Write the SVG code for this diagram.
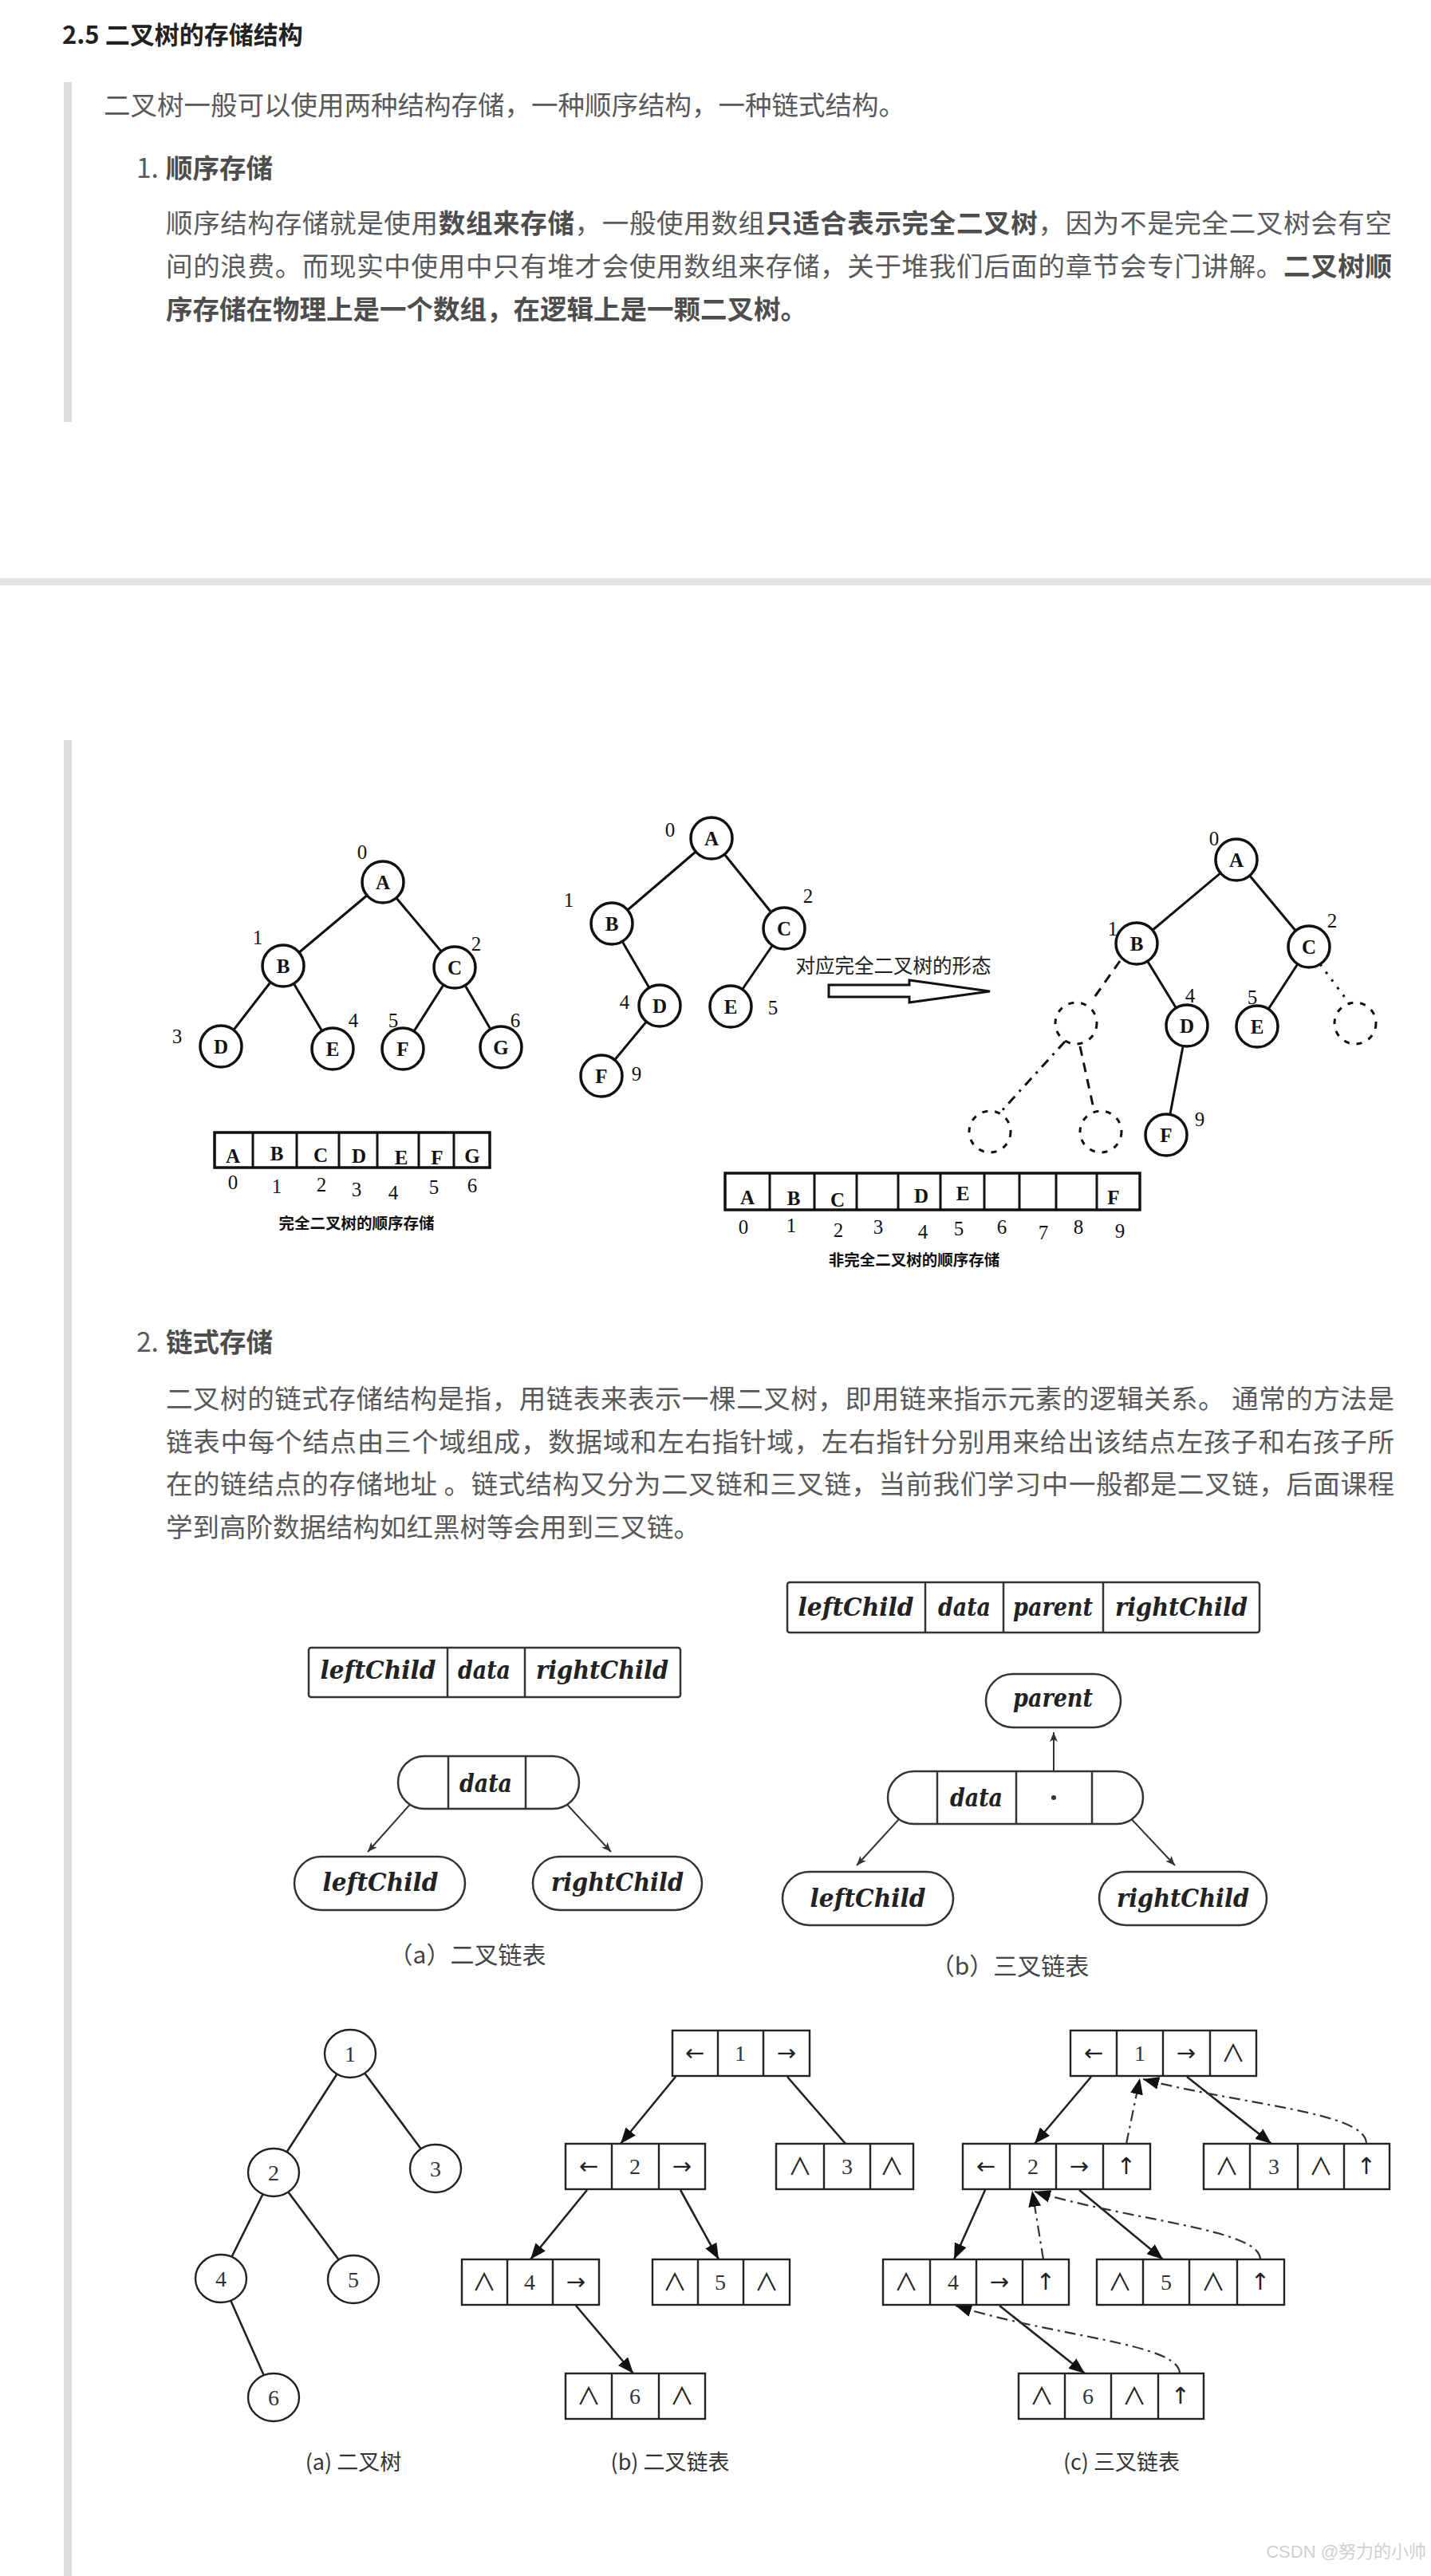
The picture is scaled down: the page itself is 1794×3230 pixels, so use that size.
<svg xmlns="http://www.w3.org/2000/svg" width="1794" height="3230" viewBox="0 0 1794 3230">
<defs>
<style>
.cjk{font-family:"Noto Sans CJK SC","Liberation Sans",sans-serif}
.h{font-size:31px;font-weight:bold;fill:#222}
.body{font-size:33.5px;fill:#595959}
.b{font-weight:bold;fill:#4d4d4d}
.edge{stroke:#111;stroke-width:3;fill:none}
.nd{fill:#fff;stroke:#111;stroke-width:3.5}
.dnd{fill:none;stroke:#111;stroke-width:3;stroke-dasharray:7 9}
.lt{font-family:"Liberation Serif",serif;font-weight:bold;font-size:25px;text-anchor:middle;fill:#111}
.idx{font-family:"Liberation Serif",serif;font-size:25px;text-anchor:middle;fill:#111}
.cap1{font-family:"Noto Sans CJK SC",sans-serif;font-weight:bold;font-size:19.5px;text-anchor:middle;fill:#111}
.cell{fill:#fff;stroke:#111;stroke-width:3.5}
.div{stroke:#111;stroke-width:3}
.dash{fill:none;stroke:#111;stroke-width:3;stroke-dasharray:12 9}
.dashdot{fill:none;stroke:#111;stroke-width:3;stroke-dasharray:12 8 3 8}
.dot{fill:none;stroke:#111;stroke-width:3;stroke-dasharray:3 9}
.it{font-family:"DejaVu Serif",serif;font-style:italic;font-weight:bold;font-size:31px;text-anchor:middle;fill:#222}
.pill{fill:#fff;stroke:#333;stroke-width:2.5}
.ln2{stroke:#333;stroke-width:2.5;fill:none}
.ptr2{stroke:#333;stroke-width:2;fill:none}
.cap2{font-family:"Noto Sans CJK SC",sans-serif;font-size:30px;text-anchor:middle;fill:#444}
.box{fill:#fff;stroke:#222;stroke-width:2.4}
.bdiv{stroke:#222;stroke-width:2.4}
.sym{font-family:"DejaVu Sans",sans-serif;font-size:29px;text-anchor:middle;fill:#222}
.nl{font-family:"Noto Sans CJK SC","DejaVu Sans",sans-serif;font-size:30px;text-anchor:middle;fill:#222}
.num{font-family:"Liberation Serif",serif;font-size:28px;text-anchor:middle;fill:#333}
.ptr3{stroke:#222;stroke-width:2.6;fill:none}
.par3{stroke:#333;stroke-width:2.2;fill:none;stroke-dasharray:14 6 3 6}
.cap3{font-family:"Noto Sans CJK SC","Liberation Serif",sans-serif;font-size:27px;text-anchor:middle;fill:#333}
.wm{font-family:"Liberation Sans","Noto Sans CJK SC",sans-serif;font-size:22px;fill:#d0d0d0;text-anchor:end}
</style>
<marker id="ah2" viewBox="0 0 12 10" refX="12" refY="5" markerWidth="12" markerHeight="10" orient="auto" markerUnits="userSpaceOnUse"><path d="M0,0 L12,5 L0,10 L3,5 Z" fill="#333"/></marker>
<marker id="ah3" viewBox="0 0 20 16" refX="20" refY="8" markerWidth="20" markerHeight="16" orient="auto" markerUnits="userSpaceOnUse"><path d="M0,0 L20,8 L0,16 Z" fill="#111"/></marker>
</defs>
<rect width="1794" height="3230" fill="#fff"/>

<g id="page-text">
<text class="cjk h" x="78" y="54.5">2.5 二叉树的存储结构</text>
<rect x="80" y="103" width="10" height="426" fill="#ddd"/>
<text class="cjk body" x="130" y="143.5">二叉树一般可以使用两种结构存储，一种顺序结构，一种链式结构。</text>
<text class="cjk body" x="171" y="222.5">1. <tspan class="b" x="208">顺序存储</tspan></text>
<text class="cjk body" x="208" y="291.5" textLength="1537">顺序结构存储就是使用<tspan class="b">数组来存储</tspan>，一般使用数组<tspan class="b">只适合表示完全二叉树</tspan>，因为不是完全二叉树会有空</text>
<text class="cjk body" x="208" y="345.5" textLength="1537">间的浪费。而现实中使用中只有堆才会使用数组来存储，关于堆我们后面的章节会专门讲解。<tspan class="b">二叉树顺</tspan></text>
<text class="cjk body b" x="208" y="399.5">序存储在物理上是一个数组，在逻辑上是一颗二叉树。</text>
<rect x="0" y="725" width="1794" height="9" fill="#e4e4e4"/>
<rect x="80" y="928" width="10" height="2302" fill="#ddd"/>
<text class="cjk body" x="171" y="1694.5">2. <tspan class="b" x="208">链式存储</tspan></text>
<text class="cjk body" x="208" y="1766" textLength="1540">二叉树的链式存储结构是指，用链表来表示一棵二叉树，即用链来指示元素的逻辑关系。 通常的方法是</text>
<text class="cjk body" x="208" y="1819.5" textLength="1540">链表中每个结点由三个域组成，数据域和左右指针域，左右指针分别用来给出该结点左孩子和右孩子所</text>
<text class="cjk body" x="208" y="1873" textLength="1540">在的链结点的存储地址 。链式结构又分为二叉链和三叉链，当前我们学习中一般都是二叉链，后面课程</text>
<text class="cjk body" x="208" y="1926.5">学到高阶数据结构如红黑树等会用到三叉链。</text>
<text class="wm" x="1788" y="3207">CSDN @努力的小帅</text>
</g>

<g id="connectors">
<line class="edge" x1="480" y1="1106" x2="355" y2="1211"/>
<line class="edge" x1="480" y1="1106" x2="570" y2="1213"/>
<line class="edge" x1="355" y1="1211" x2="277" y2="1312"/>
<line class="edge" x1="355" y1="1211" x2="417" y2="1315"/>
<line class="edge" x1="570" y1="1213" x2="505" y2="1315"/>
<line class="edge" x1="570" y1="1213" x2="628" y2="1313"/>
<line class="edge" x1="892" y1="1051" x2="767" y2="1158"/>
<line class="edge" x1="892" y1="1051" x2="983" y2="1164"/>
<line class="edge" x1="767" y1="1158" x2="827" y2="1261"/>
<line class="edge" x1="983" y1="1164" x2="916" y2="1262"/>
<line class="edge" x1="827" y1="1261" x2="754" y2="1349"/>
<line class="edge" x1="1550" y1="1078" x2="1425" y2="1183"/>
<line class="edge" x1="1550" y1="1078" x2="1641" y2="1187"/>
<line class="edge" x1="1425" y1="1183" x2="1488" y2="1286"/>
<line class="edge" x1="1641" y1="1187" x2="1576" y2="1287"/>
<line class="edge" x1="1488" y1="1286" x2="1462" y2="1423"/>
<line class="dash" x1="1404" y1="1205" x2="1368" y2="1256"/>
<line class="dashdot" x1="1335" y1="1306" x2="1253" y2="1396"/>
<line class="dash" x1="1354" y1="1312" x2="1371" y2="1390"/>
<line class="dot" x1="1655" y1="1209" x2="1693" y2="1260"/>
<polygon points="1039,1235 1140,1235 1140,1229 1241,1243 1140,1257 1140,1250 1039,1250" fill="#fff" stroke="#111" stroke-width="3" stroke-linejoin="miter"/>
<line class="ptr2" x1="536" y1="2238" x2="461" y2="2322" marker-end="url(#ah2)"/>
<line class="ptr2" x1="689" y1="2239" x2="766" y2="2322" marker-end="url(#ah2)"/>
<line class="ptr2" x1="1321" y1="2254" x2="1321" y2="2172" marker-end="url(#ah2)"/>
<line class="ptr2" x1="1149" y1="2257" x2="1074" y2="2339" marker-end="url(#ah2)"/>
<line class="ptr2" x1="1396" y1="2257" x2="1473" y2="2339" marker-end="url(#ah2)"/>
<line class="ptr3" x1="439" y1="2575" x2="343" y2="2724"/>
<line class="ptr3" x1="439" y1="2575" x2="546" y2="2719"/>
<line class="ptr3" x1="343" y1="2724" x2="277" y2="2857"/>
<line class="ptr3" x1="343" y1="2724" x2="443" y2="2858"/>
<line class="ptr3" x1="277" y1="2857" x2="343" y2="3006"/>
<line class="ptr3" x1="847" y1="2604" x2="778" y2="2688" marker-end="url(#ah3)"/>
<line class="ptr3" x1="987" y1="2604" x2="1060" y2="2688"/>
<line class="ptr3" x1="736" y1="2746" x2="665" y2="2833" marker-end="url(#ah3)"/>
<line class="ptr3" x1="853" y1="2746" x2="901" y2="2833" marker-end="url(#ah3)"/>
<line class="ptr3" x1="722" y1="2891" x2="794" y2="2976" marker-end="url(#ah3)"/>
<line class="ptr3" x1="1368" y1="2604" x2="1297" y2="2688" marker-end="url(#ah3)"/>
<line class="ptr3" x1="1488" y1="2604" x2="1594" y2="2688" marker-end="url(#ah3)"/>
<line class="ptr3" x1="1235" y1="2746" x2="1196" y2="2833" marker-end="url(#ah3)"/>
<line class="ptr3" x1="1353" y1="2746" x2="1458" y2="2833" marker-end="url(#ah3)"/>
<line class="ptr3" x1="1253" y1="2891" x2="1360" y2="2976" marker-end="url(#ah3)"/>
<path class="par3" d="M1412,2688 L1429,2606" marker-end="url(#ah3)"/>
<path class="par3" d="M1713,2688 C1713,2648 1560,2640 1433,2607" marker-end="url(#ah3)"/>
<path class="par3" d="M1308,2833 L1294,2747" marker-end="url(#ah3)"/>
<path class="par3" d="M1580,2833 C1580,2795 1420,2785 1297,2748" marker-end="url(#ah3)"/>
<path class="par3" d="M1479,2976 C1479,2938 1320,2930 1198,2891" marker-end="url(#ah3)"/>
</g>

<g id="t1-A"><circle class="nd" cx="480" cy="1106" r="26"/><text class="lt" x="480" y="1115">A</text><text class="idx" x="454" y="1077">0</text></g>
<g id="t1-B"><circle class="nd" cx="355" cy="1211" r="26"/><text class="lt" x="355" y="1220">B</text><text class="idx" x="323" y="1184">1</text></g>
<g id="t1-C"><circle class="nd" cx="570" cy="1213" r="26"/><text class="lt" x="570" y="1222">C</text><text class="idx" x="597" y="1192">2</text></g>
<g id="t1-D"><circle class="nd" cx="277" cy="1312" r="26"/><text class="lt" x="277" y="1321">D</text><text class="idx" x="222" y="1308">3</text></g>
<g id="t1-E"><circle class="nd" cx="417" cy="1315" r="26"/><text class="lt" x="417" y="1324">E</text><text class="idx" x="443" y="1288">4</text></g>
<g id="t1-F"><circle class="nd" cx="505" cy="1315" r="26"/><text class="lt" x="505" y="1324">F</text><text class="idx" x="493" y="1288">5</text></g>
<g id="t1-G"><circle class="nd" cx="628" cy="1313" r="26"/><text class="lt" x="628" y="1322">G</text><text class="idx" x="646" y="1288">6</text></g>
<g id="array1">
<rect class="cell" x="269" y="1420" width="345" height="44"/>
<line class="div" x1="317" y1="1420" x2="317" y2="1464"/><line class="div" x1="372" y1="1420" x2="372" y2="1464"/><line class="div" x1="425" y1="1420" x2="425" y2="1464"/><line class="div" x1="473" y1="1420" x2="473" y2="1464"/><line class="div" x1="525" y1="1420" x2="525" y2="1464"/><line class="div" x1="569" y1="1420" x2="569" y2="1464"/>
<text class="lt" x="292" y="1458">A</text><text class="lt" x="347" y="1455">B</text><text class="lt" x="402" y="1457">C</text><text class="lt" x="450" y="1458">D</text><text class="lt" x="503" y="1460">E</text><text class="lt" x="548" y="1460">F</text><text class="lt" x="592" y="1458">G</text>
<text class="idx" x="292" y="1491">0</text><text class="idx" x="347" y="1496">1</text><text class="idx" x="403" y="1494">2</text><text class="idx" x="447" y="1500">3</text><text class="idx" x="493" y="1504">4</text><text class="idx" x="544" y="1497">5</text><text class="idx" x="592" y="1495">6</text>
<text class="cap1" x="447" y="1541">完全二叉树的顺序存储</text>
</g>

<g id="t2-A"><circle class="nd" cx="892" cy="1051" r="26"/><text class="lt" x="892" y="1060">A</text><text class="idx" x="840" y="1049">0</text></g>
<g id="t2-B"><circle class="nd" cx="767" cy="1158" r="26"/><text class="lt" x="767" y="1167">B</text><text class="idx" x="713" y="1137">1</text></g>
<g id="t2-C"><circle class="nd" cx="983" cy="1164" r="26"/><text class="lt" x="983" y="1173">C</text><text class="idx" x="1013" y="1132">2</text></g>
<g id="t2-D"><circle class="nd" cx="827" cy="1261" r="26"/><text class="lt" x="827" y="1270">D</text><text class="idx" x="783" y="1265">4</text></g>
<g id="t2-E"><circle class="nd" cx="916" cy="1262" r="26"/><text class="lt" x="916" y="1271">E</text><text class="idx" x="969" y="1272">5</text></g>
<g id="t2-F"><circle class="nd" cx="754" cy="1349" r="26"/><text class="lt" x="754" y="1358">F</text><text class="idx" x="798" y="1355">9</text></g>
<g id="transform-label"><text class="cjk" x="1120" y="1220" font-size="24.5" text-anchor="middle" fill="#222">对应完全二叉树的形态</text></g>
<g id="array2">
<rect class="cell" x="909" y="1471" width="520" height="46"/>
<line class="div" x1="965" y1="1471" x2="965" y2="1517"/><line class="div" x1="1021" y1="1471" x2="1021" y2="1517"/><line class="div" x1="1074" y1="1471" x2="1074" y2="1517"/><line class="div" x1="1126" y1="1471" x2="1126" y2="1517"/><line class="div" x1="1179" y1="1471" x2="1179" y2="1517"/><line class="div" x1="1234" y1="1471" x2="1234" y2="1517"/><line class="div" x1="1278" y1="1471" x2="1278" y2="1517"/><line class="div" x1="1324" y1="1471" x2="1324" y2="1517"/><line class="div" x1="1375" y1="1471" x2="1375" y2="1517"/>
<text class="lt" x="937" y="1510">A</text><text class="lt" x="995" y="1511">B</text><text class="lt" x="1050" y="1513">C</text><text class="lt" x="1155" y="1508">D</text><text class="lt" x="1207" y="1505">E</text><text class="lt" x="1396" y="1510">F</text>
<text class="idx" x="932" y="1547">0</text><text class="idx" x="992" y="1545">1</text><text class="idx" x="1051" y="1551">2</text><text class="idx" x="1101" y="1547">3</text><text class="idx" x="1157" y="1553">4</text><text class="idx" x="1202" y="1549">5</text><text class="idx" x="1256" y="1547">6</text><text class="idx" x="1308" y="1554">7</text><text class="idx" x="1352" y="1547">8</text><text class="idx" x="1404" y="1552">9</text>
<text class="cap1" x="1146" y="1587">非完全二叉树的顺序存储</text>
</g>

<g id="t3-A"><circle class="nd" cx="1550" cy="1078" r="26"/><text class="lt" x="1550" y="1087">A</text><text class="idx" x="1522" y="1060">0</text></g>
<g id="t3-B"><circle class="nd" cx="1425" cy="1183" r="26"/><text class="lt" x="1425" y="1192">B</text><text class="idx" x="1395" y="1173">1</text></g>
<g id="t3-C"><circle class="nd" cx="1641" cy="1187" r="26"/><text class="lt" x="1641" y="1196">C</text><text class="idx" x="1670" y="1163">2</text></g>
<g id="t3-D"><circle class="nd" cx="1488" cy="1286" r="26"/><text class="lt" x="1488" y="1295">D</text><text class="idx" x="1492" y="1257">4</text></g>
<g id="t3-E"><circle class="nd" cx="1576" cy="1287" r="26"/><text class="lt" x="1576" y="1296">E</text><text class="idx" x="1570" y="1259">5</text></g>
<g id="t3-F"><circle class="nd" cx="1462" cy="1423" r="26"/><text class="lt" x="1462" y="1432">F</text><text class="idx" x="1504" y="1412">9</text></g>
<g id="t3-v3"><circle class="dnd" cx="1349" cy="1283" r="26"/></g>
<g id="t3-v6"><circle class="dnd" cx="1699" cy="1283" r="26"/></g>
<g id="t3-v7"><circle class="dnd" cx="1241" cy="1419" r="26"/></g>
<g id="t3-v8"><circle class="dnd" cx="1380" cy="1419" r="26"/></g>

<g id="f2a-layout">
<rect class="pill" x="387" y="2066" width="466" height="62" rx="3"/>
<line class="ln2" x1="561" y1="2066" x2="561" y2="2128"/><line class="ln2" x1="658" y1="2066" x2="658" y2="2128"/>
<text class="it" x="474" y="2105" textLength="145" lengthAdjust="spacingAndGlyphs">leftChild</text>
<text class="it" x="607" y="2105" textLength="66" lengthAdjust="spacingAndGlyphs">data</text>
<text class="it" x="755" y="2105" textLength="166" lengthAdjust="spacingAndGlyphs">rightChild</text>
</g>
<g id="f2a-node">
<rect class="pill" x="499" y="2202" width="227" height="66" rx="33"/>
<line class="ln2" x1="562" y1="2202" x2="562" y2="2268"/><line class="ln2" x1="659" y1="2202" x2="659" y2="2268"/>
<text class="it" x="609" y="2247" textLength="66" lengthAdjust="spacingAndGlyphs">data</text>
</g>
<g id="f2a-left"><rect class="pill" x="369" y="2328" width="214" height="67" rx="33.5"/><text class="it" x="477" y="2371" textLength="145" lengthAdjust="spacingAndGlyphs">leftChild</text></g>
<g id="f2a-right"><rect class="pill" x="668" y="2328" width="212" height="67" rx="33.5"/><text class="it" x="774" y="2371" textLength="166" lengthAdjust="spacingAndGlyphs">rightChild</text></g>
<text class="cap2" x="586" y="2462">（a）二叉链表</text>

<g id="f2b-layout">
<rect class="pill" x="987" y="1984" width="592" height="63" rx="3"/>
<line class="ln2" x1="1160" y1="1984" x2="1160" y2="2047"/><line class="ln2" x1="1258" y1="1984" x2="1258" y2="2047"/><line class="ln2" x1="1383" y1="1984" x2="1383" y2="2047"/>
<text class="it" x="1073" y="2026" textLength="145" lengthAdjust="spacingAndGlyphs">leftChild</text>
<text class="it" x="1209" y="2026" textLength="66" lengthAdjust="spacingAndGlyphs">data</text>
<text class="it" x="1320" y="2026" textLength="100" lengthAdjust="spacingAndGlyphs">parent</text>
<text class="it" x="1481" y="2026" textLength="166" lengthAdjust="spacingAndGlyphs">rightChild</text>
</g>
<g id="f2b-parent"><rect class="pill" x="1236" y="2099" width="169" height="67" rx="33.5"/><text class="it" x="1320" y="2140" textLength="100" lengthAdjust="spacingAndGlyphs">parent</text></g>
<g id="f2b-node">
<rect class="pill" x="1113" y="2221" width="320" height="66" rx="33"/>
<line class="ln2" x1="1175" y1="2221" x2="1175" y2="2287"/><line class="ln2" x1="1274" y1="2221" x2="1274" y2="2287"/><line class="ln2" x1="1369" y1="2221" x2="1369" y2="2287"/>
<text class="it" x="1224" y="2265" textLength="66" lengthAdjust="spacingAndGlyphs">data</text>
<circle cx="1321" cy="2254" r="3" fill="#333"/>
</g>
<g id="f2b-left"><rect class="pill" x="981" y="2347" width="214" height="67" rx="33.5"/><text class="it" x="1088" y="2391" textLength="145" lengthAdjust="spacingAndGlyphs">leftChild</text></g>
<g id="f2b-right"><rect class="pill" x="1378" y="2347" width="210" height="67" rx="33.5"/><text class="it" x="1483" y="2391" textLength="166" lengthAdjust="spacingAndGlyphs">rightChild</text></g>
<text class="cap2" x="1266" y="2476">（b）三叉链表</text>

<g id="f3a-1"><ellipse class="box" cx="439" cy="2575" rx="32" ry="30"/><text class="num" x="439" y="2585">1</text></g>
<g id="f3a-2"><ellipse class="box" cx="343" cy="2724" rx="32" ry="30"/><text class="num" x="343" y="2734">2</text></g>
<g id="f3a-3"><ellipse class="box" cx="546" cy="2719" rx="32" ry="30"/><text class="num" x="546" y="2729">3</text></g>
<g id="f3a-4"><ellipse class="box" cx="277" cy="2857" rx="32" ry="30"/><text class="num" x="277" y="2867">4</text></g>
<g id="f3a-5"><ellipse class="box" cx="443" cy="2858" rx="32" ry="30"/><text class="num" x="443" y="2868">5</text></g>
<g id="f3a-6"><ellipse class="box" cx="343" cy="3006" rx="32" ry="30"/><text class="num" x="343" y="3016">6</text></g>
<text class="cap3" x="443" y="3097">(a) 二叉树</text>

<g id="f3b-1"><rect class="box" x="843" y="2546" width="172" height="57"/><line class="bdiv" x1="900" y1="2546" x2="900" y2="2603"/><line class="bdiv" x1="957" y1="2546" x2="957" y2="2603"/>
<text class="sym" x="871" y="2584">←</text><text class="num" x="928" y="2584">1</text><text class="sym" x="986" y="2584">→</text></g>
<g id="f3b-2"><rect class="box" x="709" y="2688" width="175" height="57"/><line class="bdiv" x1="767" y1="2688" x2="767" y2="2745"/><line class="bdiv" x1="826" y1="2688" x2="826" y2="2745"/>
<text class="sym" x="738" y="2726">←</text><text class="num" x="796" y="2726">2</text><text class="sym" x="855" y="2726">→</text></g>
<g id="f3b-3"><rect class="box" x="973" y="2688" width="172" height="57"/><line class="bdiv" x1="1033" y1="2688" x2="1033" y2="2745"/><line class="bdiv" x1="1091" y1="2688" x2="1091" y2="2745"/>
<text class="nl" x="1003" y="2727">∧</text><text class="num" x="1062" y="2726">3</text><text class="nl" x="1118" y="2727">∧</text></g>
<g id="f3b-4"><rect class="box" x="579" y="2833" width="172" height="57"/><line class="bdiv" x1="636" y1="2833" x2="636" y2="2890"/><line class="bdiv" x1="693" y1="2833" x2="693" y2="2890"/>
<text class="nl" x="607" y="2872">∧</text><text class="num" x="664" y="2871">4</text><text class="sym" x="722" y="2871">→</text></g>
<g id="f3b-5"><rect class="box" x="818" y="2833" width="172" height="57"/><line class="bdiv" x1="875" y1="2833" x2="875" y2="2890"/><line class="bdiv" x1="932" y1="2833" x2="932" y2="2890"/>
<text class="nl" x="846" y="2872">∧</text><text class="num" x="903" y="2871">5</text><text class="nl" x="961" y="2872">∧</text></g>
<g id="f3b-6"><rect class="box" x="709" y="2976" width="175" height="57"/><line class="bdiv" x1="767" y1="2976" x2="767" y2="3033"/><line class="bdiv" x1="826" y1="2976" x2="826" y2="3033"/>
<text class="nl" x="738" y="3015">∧</text><text class="num" x="796" y="3014">6</text><text class="nl" x="855" y="3015">∧</text></g>
<text class="cap3" x="840" y="3097">(b) 二叉链表</text>

<g id="f3c-1"><rect class="box" x="1342" y="2546" width="233" height="57"/><line class="bdiv" x1="1400" y1="2546" x2="1400" y2="2603"/><line class="bdiv" x1="1458" y1="2546" x2="1458" y2="2603"/><line class="bdiv" x1="1517" y1="2546" x2="1517" y2="2603"/>
<text class="sym" x="1371" y="2584">←</text><text class="num" x="1429" y="2584">1</text><text class="sym" x="1487" y="2584">→</text><text class="nl" x="1546" y="2585">∧</text></g>
<g id="f3c-2"><rect class="box" x="1207" y="2688" width="235" height="57"/><line class="bdiv" x1="1266" y1="2688" x2="1266" y2="2745"/><line class="bdiv" x1="1324" y1="2688" x2="1324" y2="2745"/><line class="bdiv" x1="1383" y1="2688" x2="1383" y2="2745"/>
<text class="sym" x="1236" y="2726">←</text><text class="num" x="1295" y="2726">2</text><text class="sym" x="1353" y="2726">→</text><text class="sym" x="1412" y="2726">↑</text></g>
<g id="f3c-3"><rect class="box" x="1509" y="2688" width="233" height="57"/><line class="bdiv" x1="1567" y1="2688" x2="1567" y2="2745"/><line class="bdiv" x1="1627" y1="2688" x2="1627" y2="2745"/><line class="bdiv" x1="1685" y1="2688" x2="1685" y2="2745"/>
<text class="nl" x="1538" y="2727">∧</text><text class="num" x="1597" y="2726">3</text><text class="nl" x="1656" y="2727">∧</text><text class="sym" x="1713" y="2726">↑</text></g>
<g id="f3c-4"><rect class="box" x="1107" y="2833" width="233" height="57"/><line class="bdiv" x1="1166" y1="2833" x2="1166" y2="2890"/><line class="bdiv" x1="1224" y1="2833" x2="1224" y2="2890"/><line class="bdiv" x1="1282" y1="2833" x2="1282" y2="2890"/>
<text class="nl" x="1136" y="2872">∧</text><text class="num" x="1195" y="2871">4</text><text class="sym" x="1253" y="2871">→</text><text class="sym" x="1311" y="2871">↑</text></g>
<g id="f3c-5"><rect class="box" x="1375" y="2833" width="235" height="57"/><line class="bdiv" x1="1433" y1="2833" x2="1433" y2="2890"/><line class="bdiv" x1="1491" y1="2833" x2="1491" y2="2890"/><line class="bdiv" x1="1551" y1="2833" x2="1551" y2="2890"/>
<text class="nl" x="1404" y="2872">∧</text><text class="num" x="1462" y="2871">5</text><text class="nl" x="1521" y="2872">∧</text><text class="sym" x="1580" y="2871">↑</text></g>
<g id="f3c-6"><rect class="box" x="1277" y="2976" width="232" height="57"/><line class="bdiv" x1="1335" y1="2976" x2="1335" y2="3033"/><line class="bdiv" x1="1393" y1="2976" x2="1393" y2="3033"/><line class="bdiv" x1="1452" y1="2976" x2="1452" y2="3033"/>
<text class="nl" x="1306" y="3015">∧</text><text class="num" x="1364" y="3014">6</text><text class="nl" x="1422" y="3015">∧</text><text class="sym" x="1480" y="3014">↑</text></g>
<text class="cap3" x="1406" y="3097">(c) 三叉链表</text>
</svg>
